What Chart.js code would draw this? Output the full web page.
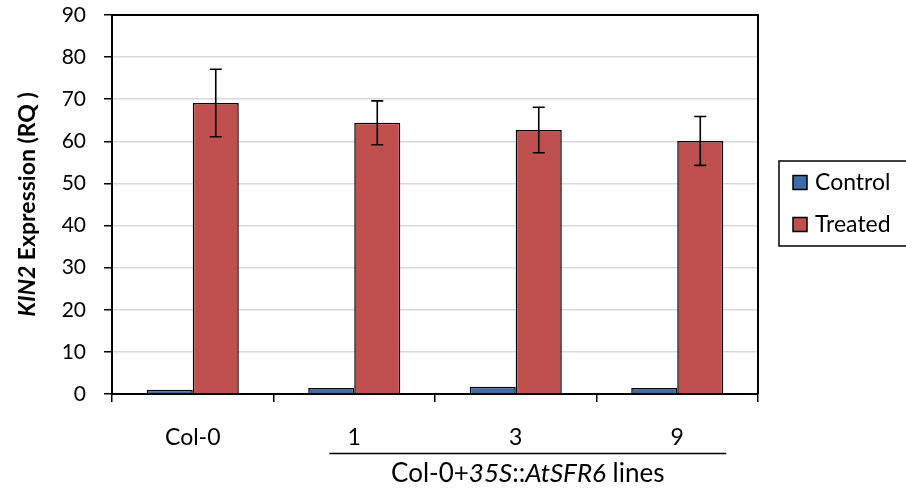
<!DOCTYPE html>
<html>
<head>
<meta charset="utf-8">
<script src="https://cdn.jsdelivr.net/npm/chart.js@4.4.1/dist/chart.umd.min.js"></script>
<style>
  html, body { margin: 0; padding: 0; background: #ffffff; }
  #wrap { width: 906px; height: 488px; }
</style>
</head>
<body>
<div id="wrap"><canvas id="c" width="906" height="488"></canvas></div>
<script>
// KIN2 relative expression per line
const categories = ['Col-0', '1', '3', '9'];
const controlValues = [1.0, 1.4, 1.7, 1.4];
const treatedValues = [69.1, 64.4, 62.7, 60.1];
const treatedErrors = [8.0, 5.2, 5.4, 5.8];
const yTicks = [0, 10, 20, 30, 40, 50, 60, 70, 80, 90];
const seriesNames = ['Control', 'Treated'];
const groupLabelParts = [
  { text: 'Col-0+', italic: false },
  { text: '35S', italic: true },
  { text: '::', italic: false },
  { text: 'AtSFR6', italic: true },
  { text: ' lines', italic: false }
];

const FONT = 'Lato, "Open Sans", sans-serif';
const FS_Y = 21;     // y tick labels
const FS_X = 23;     // x tick labels and legend
const FS_T = 23;     // y title
const FS_G = 26;     // group label

const extras = {
  id: 'extras',
  afterDatasetsDraw(chart) {
    const ctx = chart.ctx;
    const y = chart.scales.y;
    const meta = chart.getDatasetMeta(1);
    ctx.save();
    ctx.strokeStyle = '#000';
    ctx.lineWidth = 1.6;
    meta.data.forEach((bar, i) => {
      const v = treatedValues[i], e = treatedErrors[i];
      const top = y.getPixelForValue(v + e), bot = y.getPixelForValue(v - e);
      const cx = bar.x;
      ctx.beginPath();
      ctx.moveTo(cx, top); ctx.lineTo(cx, bot);
      ctx.moveTo(cx - 6, top); ctx.lineTo(cx + 6, top);
      ctx.moveTo(cx - 6, bot); ctx.lineTo(cx + 6, bot);
      ctx.stroke();
    });
    ctx.restore();
  },
  afterDraw(chart) {
    const ctx = chart.ctx;
    const a = chart.chartArea;
    const x = chart.scales.x;
    ctx.save();
    // plot frame: top and right edges
    ctx.strokeStyle = '#000';
    ctx.lineWidth = 2;
    ctx.beginPath();
    ctx.moveTo(a.left, a.top); ctx.lineTo(a.right, a.top); ctx.lineTo(a.right, a.bottom);
    ctx.stroke();

    // y-axis title with italic gene name
    ctx.fillStyle = '#000';
    ctx.textBaseline = 'middle';
    const p1 = 'KIN2', p2 = ' Expression (RQ )';
    const f1 = 'italic bold ' + FS_T + 'px ' + FONT, f2 = 'bold ' + FS_T + 'px ' + FONT;
    ctx.font = f1; const w1 = ctx.measureText(p1).width;
    ctx.font = f2; const w2 = ctx.measureText(p2).width;
    ctx.save();
    ctx.translate(28, (a.top + a.bottom) / 2);
    ctx.rotate(-Math.PI / 2);
    ctx.textAlign = 'left';
    ctx.font = f1; ctx.fillText(p1, -(w1 + w2) / 2, 0);
    ctx.font = f2; ctx.fillText(p2, -(w1 + w2) / 2 + w1, 0);
    ctx.restore();

    // transgenic lines group: underline and label
    const ux0 = x.getPixelForValue(1) - 25, ux1 = x.getPixelForValue(3) + 49;
    ctx.lineWidth = 1.5;
    ctx.beginPath();
    ctx.moveTo(ux0, 453.5); ctx.lineTo(ux1, 453.5);
    ctx.stroke();
    const fonts = groupLabelParts.map(p => (p.italic ? 'italic ' : '') + FS_G + 'px ' + FONT);
    const widths = groupLabelParts.map((p, i) => { ctx.font = fonts[i]; return ctx.measureText(p.text).width; });
    const total = widths.reduce((s, w) => s + w, 0);
    let gx = (ux0 + ux1) / 2 - total / 2;
    ctx.textAlign = 'left';
    groupLabelParts.forEach((p, i) => {
      ctx.font = fonts[i];
      ctx.fillText(p.text, gx, 474);
      gx += widths[i];
    });

    // legend box
    ctx.lineWidth = 1.5;
    ctx.strokeRect(779, 161, 130, 85);
    chart.data.datasets.forEach((ds, i) => {
      const ly = 182.5 + i * 42;
      ctx.fillStyle = ds.backgroundColor;
      ctx.fillRect(793, ly - 7, 14, 14);
      ctx.strokeStyle = '#000';
      ctx.lineWidth = 1.5;
      ctx.strokeRect(793, ly - 7, 14, 14);
      ctx.fillStyle = '#000';
      ctx.font = FS_X + 'px ' + FONT;
      ctx.textAlign = 'left';
      ctx.fillText(ds.label, 815, ly);
    });
    ctx.restore();
  }
};

new Chart(document.getElementById('c'), {
  type: 'bar',
  data: {
    labels: categories,
    datasets: [
      { label: seriesNames[0], data: controlValues, backgroundColor: '#3f6ca6', borderColor: '#000', borderWidth: 1.5 },
      { label: seriesNames[1], data: treatedValues, backgroundColor: '#c0504d', borderColor: '#000', borderWidth: 1.5 }
    ]
  },
  options: {
    responsive: false,
    animation: false,
    devicePixelRatio: 1,
    layout: { padding: { left: 0, top: 15, right: 148, bottom: 0 } },
    datasets: { bar: { categoryPercentage: 0.57, barPercentage: 1.0 } },
    plugins: { legend: { display: false }, tooltip: { enabled: false } },
    scales: {
      x: {
        grid: { offset: true, drawOnChartArea: false, color: '#000', tickColor: '#000', tickLength: 8, lineWidth: 1.5 },
        border: { color: '#000', width: 2 },
        ticks: { color: '#000', font: { family: FONT, size: FS_X }, padding: 22, maxRotation: 0 },
        afterFit: s => { s.height = 94; s.paddingLeft = 0; s.paddingRight = 0; }
      },
      y: {
        min: 0, max: 90,
        afterBuildTicks: s => { s.ticks = yTicks.map(v => ({ value: v })); },
        grid: { color: '#d9d9d9', lineWidth: 1.5, tickColor: '#000', tickLength: 8 },
        border: { color: '#000', width: 2 },
        ticks: { color: '#000', font: { family: FONT, size: FS_Y }, padding: 18 },
        afterFit: s => { s.width = 112; s.paddingTop = 0; s.paddingBottom = 0; }
      }
    }
  },
  plugins: [extras]
});
</script>
</body>
</html>
